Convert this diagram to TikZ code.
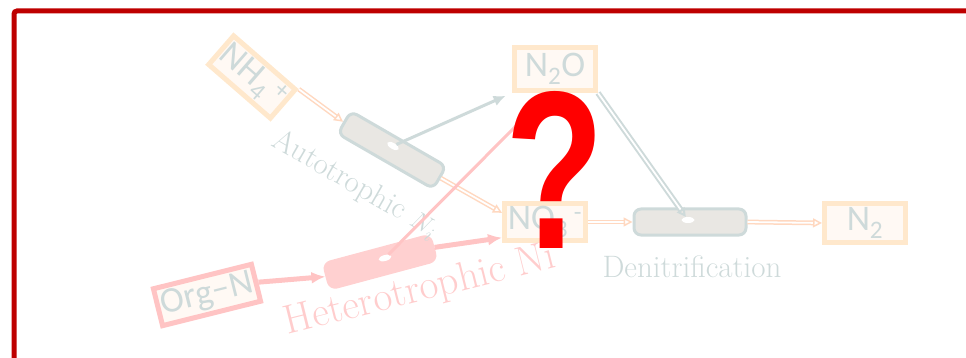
\documentclass[tikz,border=0pt]{standalone}
\usepackage{fontspec}
\newfontfamily\boxfont{Carlito}
\newfontfamily\markfont{Liberation Sans}
\usetikzlibrary{arrows.meta,positioning,shapes.geometric,calc}
\definecolor{framered}{RGB}{190,0,0}
\definecolor{qred}{RGB}{255,0,0}
\definecolor{paleorange}{RGB}{255,232,204}
\definecolor{creamfill}{RGB}{255,249,244}
\definecolor{greyblue}{RGB}{206,218,218}
\definecolor{cylgrey}{RGB}{233,231,227}
\definecolor{pinkline}{RGB}{255,196,196}
\definecolor{pinkfill}{RGB}{255,208,208}
\definecolor{pinktext}{RGB}{255,205,205}
\definecolor{peach}{RGB}{255,216,192}
\tikzset{
  speciesbox/.style={draw=paleorange, fill=creamfill, line width=5pt,
    minimum width=81pt, minimum height=38pt, inner sep=2pt, text=greyblue,
    font=\boxfont\fontsize{36}{36}\selectfont},
  sourcebox/.style={speciesbox, draw=pinkline, minimum width=101pt},
  cylbox/.style={rectangle, rounded corners=7pt,
    draw=greyblue, fill=cylgrey, line width=3pt, inner sep=0pt,
    minimum width=110pt, minimum height=26pt},
  hetbox/.style={cylbox, draw=pinkfill, fill=pinkfill},
  spot/.style={ellipse, fill=white, inner sep=0pt,
    minimum width=13pt, minimum height=6pt},
  dflow/.style={draw=peach, line width=1.5pt, double=white, double distance=1.8pt,
    -{Triangle[open, length=9pt, width=9pt]}},
  greydflow/.style={dflow, draw=greyblue, line width=2pt},
  greyflow/.style={draw=greyblue, line width=3pt, -{Latex[length=12pt, width=11pt]}},
  pinkflow/.style={draw=pinkline, line width=5pt, -{Latex[length=14pt, width=12pt]}},
  pinkthin/.style={draw=pinkline, line width=3pt, -{Latex[length=12pt, width=10pt]}},
  proclabel/.style={font=\fontsize{31}{31}\selectfont, text=greyblue, inner sep=0pt}
}

\begin{document}
\begin{tikzpicture}[x=1pt, y=-1pt]
\useasboundingbox (0,0) rectangle (966,358);

% species
\node[speciesbox, rotate=-41] (nh4) at (252,77) {NH\textsubscript{4}\textsuperscript{ +}};
\node[speciesbox, minimum height=43pt] (n2o) at (555,69) {N\textsubscript{2}O};
\node[speciesbox, minimum height=36pt] (no3) at (545,222) {NO\textsubscript{3}\textsuperscript{ -}};
\node[speciesbox] (n2) at (865,223) {N\textsubscript{2}};
\node[sourcebox, rotate=14] (orgn) at (207,295) {Org–N};

% organisms
\node[cylbox, rotate=-30] (auto) at (392,150) {};
\node[spot, rotate=-30] (aspot) at (393,146) {};
\node[hetbox, rotate=15] (het) at (380,262) {};
\node[spot, rotate=15] (hspot) at (385,258) {};
\node[cylbox, minimum width=112pt] (deni) at (690,222) {};
\node[spot] (dspot) at (688,220) {};

% labels
\node[proclabel, rotate=-30] (autolab) at (355,185) {Autotrophic $N_i$};
\node[proclabel, text=pinktext, font=\fontsize{41}{41}\selectfont, rotate=14] (hetlab) at (420,291) {Heterotrophic Ni};
\node[proclabel] (denilab) at (692,267) {Denitrification};

% flows
\draw[dflow] (nh4.north east) -- (auto.west);
\draw[dflow] (auto.east) -- (no3.168);
\draw[greyflow, shorten >=7pt] (aspot) -- (n2o.south west);
\draw[greydflow] (n2o.south east) -- (dspot);
\draw[dflow] (no3.east) -- (deni.west);
\draw[dflow] (deni.east) -- (n2.west);
\draw[pinkflow] (orgn.east) -- (het.west);
\draw[pinkflow] (het.east) -- (no3.200);
\draw[pinkthin, shorten >=9pt] (hspot) -- (n2o.255);

% frame and question
\draw[framered, line width=5pt, rounded corners=3pt] (14,370) -- (14,11) -- (980,11);
\node[text=qred, font=\markfont\bfseries\fontsize{225}{225}\selectfont, xscale=0.72, inner sep=0pt] (q) at (555,170) {?};
\end{tikzpicture}
\end{document}
